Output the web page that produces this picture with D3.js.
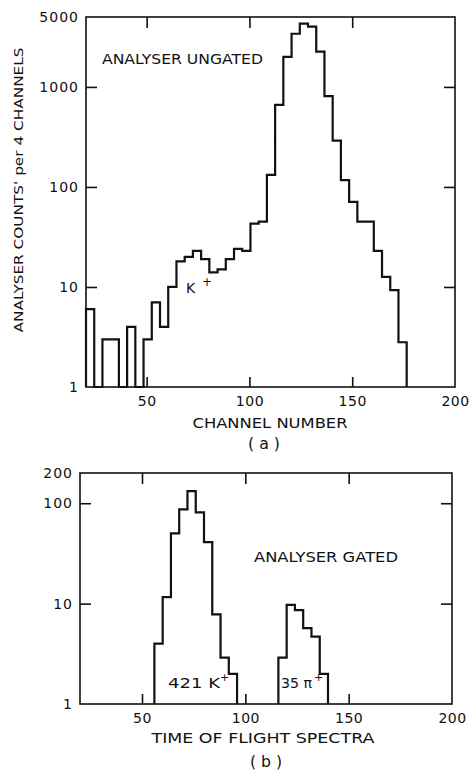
<!DOCTYPE html>
<html>
<head>
<meta charset="utf-8">
<script src="https://cdn.jsdelivr.net/npm/d3@7/dist/d3.min.js"></script>
<style>
  html, body { margin: 0; padding: 0; background: #fff; }
  svg { display: block; }
  text { font-family: "DejaVu Sans", "Liberation Sans", Arial, sans-serif; fill: #111; }
</style>
</head>
<body>
<svg id="chart" width="469" height="772"></svg>
<script>
// ---------- Data ----------
// Panel (a): analyser ungated, bins of 4 channels (left edge of each bin)
const aBinStarts = [20.5, 24.5, 28.5, 32.5, 36.5, 40.5, 44.5, 48.5, 52.5, 56.5,
                    60.5, 64.5, 68.5, 72.5, 76.5, 80.5, 84.5, 88.5, 92.5, 96.5,
                    100.5, 104.5, 108.5, 112.5, 116.5, 120.5, 124.5, 128.5, 132.5, 136.5,
                    140.5, 144.5, 148.5, 152.5, 156.5, 160.5, 164.5, 168.5, 172.5];
const aCounts    = [6, 1, 3, 3, 1, 4, 1, 3, 7, 4,
                    10, 18, 20, 23, 19, 14, 15, 19, 24, 23,
                    43, 45, 132, 660, 2000, 3400, 4300, 4000, 2250, 810,
                    290, 117, 71, 45, 45, 23, 12.6, 9.3, 2.8];
const aBinWidth = 4;
const aYTicks = [1, 10, 100, 1000, 5000];
const aYTickLabels = ["1", "10", "100", "1000", "5000"];
const aXTicks = [50, 100, 150, 200];
const aXTickLabels = ["50", "100", "150", "200"];

// Panel (b): analyser gated, time of flight
const kBinStarts  = [56, 60, 64, 68, 72, 76, 80, 84, 88, 92];
const kCounts     = [4, 11.6, 50, 87, 132, 81, 41, 7.8, 2.9, 2.0];
const piBinStarts = [116, 120, 124, 128, 132, 136];
const piCounts    = [2.9, 9.7, 8.6, 5.7, 4.7, 2.0];
const bBinWidth = 4;
const bYTicks = [1, 10, 100, 200];
const bYTickLabels = ["1", "10", "100", "200"];
const bXTicks = [50, 100, 150, 200];
const bXTickLabels = ["50", "100", "150", "200"];

// ---------- Drawing ----------
const svg = d3.select("#chart");
svg.append("rect").attr("width", 469).attr("height", 772).attr("fill", "#fff");

function stepPoints(starts, counts, width) {
  const pts = [[starts[0], 1]];
  starts.forEach((s, i) => { pts.push([s, counts[i]]); pts.push([s + width, counts[i]]); });
  pts.push([starts[starts.length - 1] + width, 1]);
  return pts;
}

function panel(cfg) {
  const x = d3.scaleLinear().domain(cfg.xDomain).range(cfg.xRange);
  const y = d3.scaleLog().domain(cfg.yDomain).range(cfg.yRange);
  const g = svg.append("g");
  const [x0, x1] = cfg.xRange, [y0, y1] = cfg.yRange;

  // frame
  g.append("rect").attr("x", x0).attr("y", y1).attr("width", x1 - x0).attr("height", y0 - y1)
    .attr("fill", "none").attr("stroke", "#111").attr("stroke-width", 1.6);

  const inner = cfg.yTicks.filter(v => v > cfg.yDomain[0] && v < cfg.yDomain[1]);
  const innerX = cfg.xTicks.filter(v => v > cfg.xDomain[0] && v < cfg.xDomain[1]);

  // tick marks via d3 axes (inward)
  const mk = (axis, tr) => {
    const a = g.append("g").attr("transform", tr).call(axis);
    a.select(".domain").remove();
    a.selectAll("text").remove();
    a.selectAll("line").attr("stroke", "#111").attr("stroke-width", 1.6);
  };
  mk(d3.axisLeft(y).tickValues(inner).tickSize(-11), `translate(${x0},0)`);
  mk(d3.axisRight(y).tickValues(inner).tickSize(-11), `translate(${x1},0)`);
  mk(d3.axisTop(x).tickValues(innerX).tickSize(-11), `translate(0,${y1})`);
  mk(d3.axisBottom(x).tickValues(innerX).tickSize(-10), `translate(0,${y0})`);

  // tick labels via d3 axes
  const yl = g.append("g").attr("transform", `translate(${x0},0)`)
    .call(d3.axisLeft(y).tickValues(cfg.yTicks).tickSize(0).tickPadding(7)
      .tickFormat((d, i) => cfg.yTickLabels[i]));
  yl.select(".domain").remove();
  yl.selectAll("text").attr("font-size", 14).attr("font-family", "DejaVu Sans")
    .attr("letter-spacing", "1px").attr("fill", "#111");
  const xl = g.append("g").attr("transform", `translate(0,${y0})`)
    .call(d3.axisBottom(x).tickValues(cfg.xTicks).tickSize(0).tickPadding(9)
      .tickFormat((d, i) => cfg.xTickLabels[i]));
  xl.select(".domain").remove();
  xl.selectAll("text").attr("font-size", 14).attr("font-family", "DejaVu Sans")
    .attr("letter-spacing", "0.5px").attr("fill", "#111");

  const line = d3.line().x(d => x(d[0])).y(d => y(d[1]));
  cfg.series.forEach(s => {
    g.append("path").attr("d", line(stepPoints(s.starts, s.counts, s.width)))
      .attr("fill", "none").attr("stroke", "#111").attr("stroke-width", 2.2)
      .attr("stroke-linejoin", "miter");
  });
  return { x, y, g };
}

const A = panel({
  xDomain: [20.5, 200], xRange: [86, 455],
  yDomain: [1, 5000], yRange: [387, 17],
  yTicks: aYTicks, yTickLabels: aYTickLabels,
  xTicks: aXTicks, xTickLabels: aXTickLabels,
  series: [{ starts: aBinStarts, counts: aCounts, width: aBinWidth }]
});

const B = panel({
  xDomain: [20, 200], xRange: [80, 452],
  yDomain: [1, 200], yRange: [704, 473],
  yTicks: bYTicks, yTickLabels: bYTickLabels,
  xTicks: bXTicks, xTickLabels: bXTickLabels,
  series: [{ starts: kBinStarts, counts: kCounts, width: bBinWidth },
           { starts: piBinStarts, counts: piCounts, width: bBinWidth }]
});

// ---------- Texts ----------
function txt(x, y, s, size, opts = {}) {
  const t = svg.append("text").attr("x", x).attr("y", y).attr("font-size", size)
    .attr("fill", "#111").attr("text-anchor", opts.anchor || "start").text(s);
  if (opts.len) t.attr("textLength", opts.len).attr("lengthAdjust", "spacingAndGlyphs");
  if (opts.rot) t.attr("transform", `rotate(${opts.rot},${x},${y})`);
  return t;
}

txt(102, 64, "ANALYSER  UNGATED", 13.5, { len: 161 });
txt(186, 293, "K", 14);
txt(202, 286, "+", 12);
txt(270, 428, "CHANNEL  NUMBER", 13.5, { anchor: "middle", len: 155 });
txt(264, 449, "( a )", 16, { anchor: "middle", len: 32 });
txt(23, 190, "ANALYSER  COUNTS' per  4  CHANNELS", 13, { anchor: "middle", rot: -90, len: 285 });

txt(254, 562, "ANALYSER   GATED", 14, { len: 144 });
txt(168, 688, "421  K", 14, { len: 52 });
txt(220, 681, "+", 11);
txt(281, 688, "35 π", 14, { len: 31 });
txt(314, 681, "+", 11);
txt(263, 743, "TIME  OF  FLIGHT  SPECTRA", 13.5, { anchor: "middle", len: 223 });
txt(266, 767, "( b )", 16, { anchor: "middle", len: 32 });
</script>
</body>
</html>
